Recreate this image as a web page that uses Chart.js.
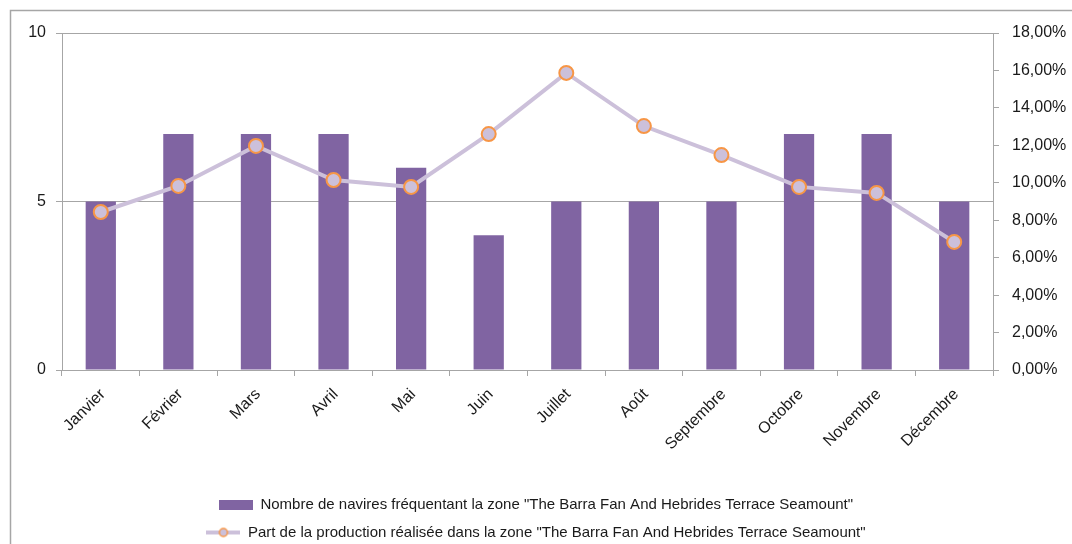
<!DOCTYPE html>
<html>
<head>
<meta charset="utf-8">
<script src="https://cdn.jsdelivr.net/npm/chart.js@4/dist/chart.umd.min.js"></script>
<style>
  html, body { margin: 0; padding: 0; background: #fff; }
  canvas { display: block; }
</style>
</head>
<body>
<canvas id="chart" width="1072" height="544"></canvas>
<script>
// Data
const months = ['Janvier', 'Février', 'Mars', 'Avril', 'Mai', 'Juin', 'Juillet', 'Août', 'Septembre', 'Octobre', 'Novembre', 'Décembre'];
const vessels = [5, 7, 7, 7, 6, 4, 5, 5, 5, 7, 7, 5];
const productionShare = [0.0844, 0.0983, 0.1197, 0.1015, 0.0978, 0.1260, 0.1587, 0.1303, 0.1148, 0.0978, 0.0946, 0.0684];
const leftTicks = [0, 5, 10];

const barLabel = 'Nombre de navires fréquentant la zone "The Barra Fan And Hebrides Terrace Seamount"';
const lineLabel = 'Part de la production réalisée dans la zone "The Barra Fan And Hebrides Terrace Seamount"';

const PURPLE = '#8064A2';
const LAVENDER = '#CCC0DA';
const ORANGE = '#F79646';
const AXIS = '#A6A6A6';
const TEXT = '#1a1a1a';
const FONT = "'Liberation Sans', Arial, sans-serif";

// legend swatches
function barSwatch() {
    const c = document.createElement('canvas');
    c.width = 34; c.height = 10;
    const g = c.getContext('2d');
    g.fillStyle = PURPLE;
    g.fillRect(0, 0, 34, 10);
    return c;
}
function lineSwatch() {
    const c = document.createElement('canvas');
    c.width = 34; c.height = 12;
    const g = c.getContext('2d');
    g.strokeStyle = LAVENDER;
    g.lineWidth = 4;
    g.beginPath(); g.moveTo(0, 6); g.lineTo(34, 6); g.stroke();
    g.beginPath(); g.arc(17, 6, 4, 0, Math.PI * 2);
    g.fillStyle = LAVENDER; g.fill();
    g.strokeStyle = ORANGE; g.lineWidth = 1.5; g.stroke();
    return c;
}
const swatches = [lineSwatch(), barSwatch()];

// white page + outer frame like the spreadsheet chart
const framePlugin = {
    id: 'frame',
    beforeDraw(chart) {
        const ctx = chart.ctx;
        ctx.save();
        ctx.fillStyle = '#fff';
        ctx.fillRect(0, 0, chart.width, chart.height);
        ctx.strokeStyle = AXIS;
        ctx.lineWidth = 1.5;
        ctx.strokeRect(10.5, 10.5, 1100, 600);
        ctx.restore();
    }
};

new Chart(document.getElementById('chart'), {
    type: 'bar',
    data: {
        labels: months,
        datasets: [
            {
                type: 'line',
                label: lineLabel,
                data: productionShare,
                yAxisID: 'y1',
                borderColor: LAVENDER,
                borderWidth: 4,
                backgroundColor: LAVENDER,
                pointRadius: 7,
                pointBorderWidth: 2,
                pointBorderColor: ORANGE,
                pointBackgroundColor: LAVENDER,
                tension: 0,
                order: 0
            },
            {
                type: 'bar',
                label: barLabel,
                data: vessels,
                yAxisID: 'y',
                backgroundColor: PURPLE,
                barPercentage: 0.39,
                categoryPercentage: 1,
                order: 1
            }
        ]
    },
    options: {
        responsive: false,
        animation: false,
        devicePixelRatio: 1,
        layout: { padding: { top: 33, left: 0, right: 0, bottom: -6 } },
        plugins: {
            tooltip: { enabled: false },
            legend: {
                position: 'bottom',
                reverse: true,
                labels: {
                    color: TEXT,
                    font: { family: FONT, size: 15 },
                    usePointStyle: true,
                    pointStyleWidth: 34,
                    boxHeight: 10,
                    padding: 13,
                    generateLabels(chart) {
                        const items = Chart.defaults.plugins.legend.labels.generateLabels(chart);
                        items.forEach(it => { it.pointStyle = swatches[it.datasetIndex]; });
                        return items;
                    }
                }
            }
        },
        scales: {
            x: {
                grid: {
                    display: true,
                    drawOnChartArea: false,
                    drawTicks: true,
                    tickLength: 6,
                    color: AXIS,
                    offset: true
                },
                border: { color: AXIS, width: 1 },
                ticks: {
                    color: TEXT,
                    font: { family: FONT, size: 16 },
                    minRotation: 45,
                    maxRotation: 45,
                    labelOffset: 2,
                    padding: 9
                },
                afterFit(scale) { scale.height = 114; }
            },
            y: {
                position: 'left',
                min: 0,
                max: 10,
                afterBuildTicks(scale) { scale.ticks = leftTicks.map(v => ({ value: v })); },
                grid: { color: AXIS, tickLength: 6, lineWidth: 1 },
                border: { color: AXIS, width: 1 },
                ticks: {
                    color: TEXT,
                    font: { family: FONT, size: 16 },
                    padding: 10
                },
                afterFit(scale) { scale.width = 62; }
            },
            y1: {
                position: 'right',
                min: 0,
                max: 0.18,
                ticks: {
                    stepSize: 0.02,
                    color: TEXT,
                    font: { family: FONT, size: 16 },
                    padding: 13,
                    callback: v => (v * 100).toFixed(2).replace('.', ',') + '%'
                },
                grid: { drawOnChartArea: false, color: AXIS, tickLength: 6 },
                border: { color: AXIS, width: 1 },
                afterFit(scale) { scale.width = 79; }
            }
        }
    },
    plugins: [framePlugin]
});
</script>
</body>
</html>
